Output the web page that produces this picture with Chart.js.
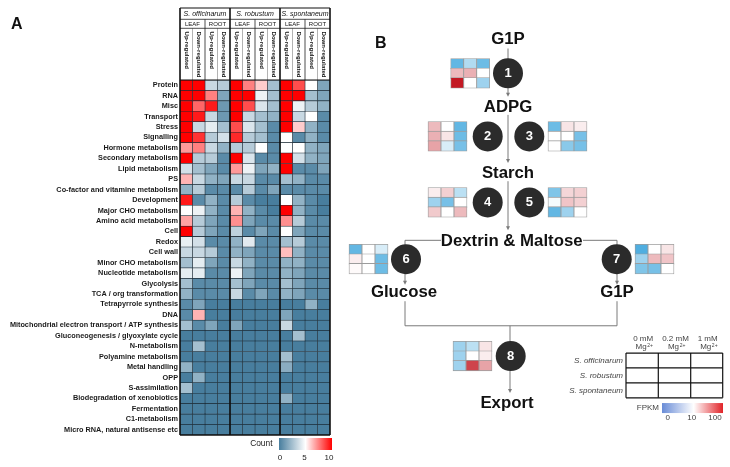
<!DOCTYPE html>
<html>
<head>
<meta charset="utf-8">
<script src="https://cdn.jsdelivr.net/npm/chart.js@4.4.1/dist/chart.umd.min.js"></script>
<style>
    html, body { margin: 0; padding: 0; background: #fff; }
    #wrap { position: relative; width: 730px; height: 467px; overflow: hidden; }
    #boxA { position: absolute; left: 0; top: 0; width: 340px; height: 467px; }
    #boxB { position: absolute; left: 340px; top: 0; width: 390px; height: 467px; }
</style>
</head>
<body>
<div id="wrap">
    <div id="boxA"><canvas id="heat"></canvas></div>
    <div id="boxB"><canvas id="path"></canvas></div>
</div>
<script>
    "use strict";

    var FONT = '"Liberation Sans", Arial, sans-serif';

    // Panel A data
    var categories = ["Protein", "RNA", "Misc", "Transport", "Stress", "Signalling", "Hormone metabolism",
        "Secondary metabolism", "Lipid metabolism", "PS", "Co-factor and vitamine metabolism", "Development",
        "Major CHO metabolism", "Amino acid metabolism", "Cell", "Redox", "Cell wall", "Minor CHO metabolism",
        "Nucleotide metabolism", "Glycolysis", "TCA / org transformation", "Tetrapyrrole synthesis", "DNA",
        "Mitochondrial electron transport / ATP synthesis", "Gluconeogenesis / glyoxylate cycle", "N-metabolism",
        "Polyamine metabolism", "Metal handling", "OPP", "S-assimilation", "Biodegradation of xenobiotics",
        "Fermentation", "C1-metabolism", "Micro RNA, natural antisense etc"];
    var species = ["S. officinarum", "S. robustum", "S. spontaneum"];
    var tissues = ["LEAF", "ROOT"];
    var regulation = ["Up-regulated", "Down-regulated"];
    var countTicks = [0, 5, 10];

    // counts per row: [LEAF up, LEAF down, ROOT up, ROOT down]
    var officinarum = [
        [10, 10, 3.5, 3], [10, 10, 7.5, 1.5], [10, 8, 9.5, 1], [10, 9.5, 3.5, 1], [10, 3.5, 4.3, 2.5],
        [10, 9, 3, 3.8], [7, 7.5, 3.5, 2], [10, 3, 3, 0.5], [3.8, 2.5, 1.5, 0.5], [6.5, 3.5, 2, 1.5],
        [2, 3, 0.5, 0.5], [9.5, 0.5, 2, 0.5], [5, 4.5, 2, 0.5], [6.8, 3, 1.5, 0.5], [10, 3, 1.5, 0.5],
        [4.4, 3.8, 0.5, 0.5], [3.5, 3.5, 3, 0.5], [2.5, 4.3, 1.5, 0.5], [4.3, 4.3, 0.5, 0.5], [2.5, 0.5, 0.5, 0.5],
        [2, 0.5, 0.5, 0.5], [0.5, 1.5, 0, 0], [0.5, 6.5, 0, 0], [2.5, 0.5, 1.5, 0], [0, 0, 0, 0],
        [0, 2.5, 0, 0], [0, 0, 0, 0], [2, 0, 0, 0], [0, 2, 0, 0], [2.5, 0, 0, 0],
        [0, 0, 0, 0], [0, 0, 0, 0], [0, 0, 0, 0], [0, 0, 0, 0]
    ];
    var robustum = [
        [10, 7.5, 6, 2.5], [10, 10, 4.5, 2.5], [10, 8.5, 4, 2.5], [10, 3.5, 2.5, 2], [8.5, 4, 2.5, 0.5],
        [9.2, 3, 2.5, 0.5], [3, 3, 5, 0.5], [10, 4, 0.5, 0.5], [7, 4.5, 1.5, 2], [3.5, 3.5, 0.5, 0.5],
        [0.5, 3, 0.5, 1.5], [3, 0.5, 0, 0], [6.5, 2, 0.5, 0], [7.2, 1.5, 0.5, 0.5], [3.2, 0.5, 1.5, 0.5],
        [2, 4.2, 0.5, 0.5], [2, 1.5, 0.5, 0.5], [3.5, 2, 0.5, 0.5], [4.5, 1.5, 0.5, 0.5], [2.5, 1.5, 0.5, 0.5],
        [3.5, 0.5, 1.5, 0.5], [0, 0, 0, 0], [0, 0, 0, 0], [1.5, 0, 0, 0], [0, 0, 0, 0],
        [0, 0, 0, 0], [0, 0, 0, 0], [0, 0, 0, 0], [0, 0, 0, 0], [0, 0, 0, 0],
        [0, 0, 0, 0], [0, 0, 0, 0], [0, 0, 0, 0], [0, 0, 0, 0]
    ];
    var spontaneum = [
        [10, 8.5, 5, 1.5], [10, 10, 2.5, 1.5], [10, 4.5, 3, 2], [10, 3.5, 5, 0.5], [10, 6, 2, 0.5],
        [5, 0.5, 2, 0.5], [5, 5, 2, 1.5], [10, 3.8, 2, 1.5], [10, 0.5, 0.5, 1.5], [2.5, 2, 0.5, 0.5],
        [0.5, 0.5, 0.5, 0.5], [5, 2, 0.5, 0], [10, 2, 0.5, 0], [7.2, 3, 0.5, 0.5], [5, 1.5, 0.5, 0.5],
        [2.5, 3, 0.5, 0.5], [6.3, 2, 0.5, 0.5], [2, 2, 0.5, 0.5], [2, 1.5, 0.5, 0.5], [2.5, 1.5, 0.5, 0.5],
        [2, 1.5, 0.5, 0.5], [0, 0, 2, 0], [1.5, 0, 0, 0], [3.5, 0, 0, 0], [0, 2.5, 0, 0],
        [0, 0, 0, 0], [2.5, 0, 0, 0], [1.8, 0, 0, 0], [0, 0, 0, 0], [0, 0, 0, 0],
        [2, 0, 0, 0], [0, 0, 0, 0], [0, 0, 0, 0], [0, 0, 0, 0]
    ];

    // Panel B data: FPKM, rows = species, cols = 0 / 0.2 / 1 mM Mg
    var enzymeSteps = ["1", "2", "3", "4", "5", "6", "7", "8"];
    var mgLevels = ["0 mM", "0.2 mM", "1 mM"];
    var fpkmTicks = ["0", "10", "100"];
    var fpkm1 = [[2, 6, 2.5], [20, 22, 10], [100, 10, 5]];
    var fpkm2 = [[20, 10, 2], [22, 13, 2.5], [25, 8, 3]];
    var fpkm3 = [[2.5, 13, 12], [10, 10, 3], [10, 4, 3]];
    var fpkm4 = [[12, 16, 6.5], [5, 3, 10], [17, 10, 20]];
    var fpkm5 = [[3.5, 15, 16], [9.5, 18, 16], [2, 5, 10]];
    var fpkm6 = [[2, 10, 8], [12, 10, 2.5], [10.5, 10, 2.5]];
    var fpkm7 = [[1, 10, 13], [5, 20, 18], [3.5, 3, 10]];
    var fpkm8 = [[5, 6.5, 13], [5, 10, 12], [5, 65, 25]];
    var fpkmSets = [fpkm1, fpkm2, fpkm3, fpkm4, fpkm5, fpkm6, fpkm7, fpkm8];


    // Colour helpers
    function mix(a, b, t) {
        return "rgb(" + Math.round(a[0] + (b[0] - a[0]) * t) + "," +
            Math.round(a[1] + (b[1] - a[1]) * t) + "," + Math.round(a[2] + (b[2] - a[2]) * t) + ")";
    }
    var WHITE = [255, 255, 255];
    function countColor(v) {
        var lo = [72, 126, 158], hi = [255, 0, 0];
        if (v <= 5) return mix(lo, WHITE, v / 5);
        return mix(WHITE, hi, Math.min(1, (v - 5) / 5));
    }
    function fpkmColor(v) {
        var lo = [60, 165, 220], hi = [195, 25, 35];
        if (v <= 10) return mix(lo, WHITE, v / 10);
        return mix(WHITE, hi, Math.min(1, Math.log10(v) - 1));
    }


    // Heatmap header + legend plugin
    var heatDecor = {
        id: "heatDecor",
        afterDatasetsDraw: function (chart) {
            var ctx = chart.ctx, xs = chart.scales.x, a = chart.chartArea;
            var top = 8, y1 = 19.3, y2 = 28.3;
            function line(xa, ya, xb, yb, w, c) {
                ctx.beginPath();
                ctx.moveTo(xa, ya);
                ctx.lineTo(xb, yb);
                ctx.lineWidth = w;
                ctx.strokeStyle = c;
                ctx.stroke();
            }
            ctx.save();
            // column lines in header
            for (var c = 1; c < 12; c++) {
                var xc = xs.getPixelForValue(c);
                if (c % 4 === 0) continue;
                if (c % 2 === 0) line(xc, y1, xc, a.top, 0.8, "#222");
                else line(xc, y2, xc, a.top, 0.5, "#666");
            }
            line(a.left, top, a.right, top, 1.2, "#111");
            line(a.left, y1, a.right, y1, 0.8, "#222");
            line(a.left, y2, a.right, y2, 0.8, "#222");
            line(a.left, a.top, a.right, a.top, 1.2, "#111");
            line(a.left, a.bottom, a.right, a.bottom, 1.4, "#111");
            for (var g = 0; g <= 12; g += 4) {
                var xg = xs.getPixelForValue(g);
                line(xg, top, xg, a.bottom, 1.6, "#111");
            }

            // header text
            ctx.fillStyle = "#111";
            ctx.textAlign = "center";
            ctx.textBaseline = "middle";
            species.forEach(function (s, i) {
                ctx.font = "italic 7px " + FONT;
                ctx.fillText(s, (xs.getPixelForValue(i * 4) + xs.getPixelForValue(i * 4 + 4)) / 2, 13.8);
                tissues.forEach(function (t, j) {
                    ctx.font = "6px " + FONT;
                    var x0 = xs.getPixelForValue(i * 4 + j * 2), x1 = xs.getPixelForValue(i * 4 + j * 2 + 2);
                    ctx.fillText(t, (x0 + x1) / 2, 24);
                    regulation.forEach(function (r, k) {
                        var xr = xs.getPixelForValue(i * 4 + j * 2 + k + 0.5);
                        ctx.save();
                        ctx.translate(xr, 31.5);
                        ctx.rotate(Math.PI / 2);
                        ctx.textAlign = "left";
                        ctx.font = "bold 6.1px " + FONT;
                        ctx.fillText(r, 0, 0);
                        ctx.restore();
                    });
                });
            });

            // panel letter
            ctx.font = "bold 16px " + FONT;
            ctx.textAlign = "left";
            ctx.fillText("A", 11, 25);

            // Count legend
            var bx0 = 279, bx1 = 332, by0 = 438, by1 = 450;
            var grad = ctx.createLinearGradient(bx0, 0, bx1, 0);
            grad.addColorStop(0, countColor(0));
            grad.addColorStop(0.5, countColor(5));
            grad.addColorStop(1, countColor(10));
            ctx.fillStyle = grad;
            ctx.fillRect(bx0, by0, bx1 - bx0, by1 - by0);
            ctx.fillStyle = "#222";
            ctx.font = "8.4px " + FONT;
            ctx.textAlign = "right";
            ctx.fillText("Count", 272.5, 443.5);
            ctx.textAlign = "center";
            ctx.font = "8px " + FONT;
            countTicks.forEach(function (t) {
                ctx.fillText(String(t), bx0 + 1 + (bx1 - bx0 - 4) * t / 10, 457.5);
            });
            ctx.restore();
        }
    };


    // Heatmap chart
    var heatSets = [];
    [officinarum, robustum, spontaneum].forEach(function (counts, si) {
        for (var col = 0; col < 4; col++) {
            heatSets.push({
                label: species[si] + " " + tissues[Math.floor(col / 2)] + " " + regulation[col % 2],
                data: categories.map(function () { return 1; }),
                backgroundColor: counts.map(function (row) { return countColor(row[col]); }),
                borderColor: "#1b2a34",
                borderWidth: 0.6,
                borderSkipped: false,
                barPercentage: 1,
                categoryPercentage: 1
            });
        }
    });

    var ctx1 = document.getElementById("heat").getContext("2d");
    var heatChart = new Chart(ctx1, {
        type: "bar",
        data: { labels: categories, datasets: heatSets },
        options: {
            indexAxis: "y",
            responsive: true,
            maintainAspectRatio: false,
            animation: false,
            layout: { padding: { left: 0, right: 10, top: 80, bottom: 32 } },
            plugins: { legend: { display: false }, tooltip: { enabled: false } },
            scales: {
                x: { type: "linear", stacked: true, min: 0, max: 12, display: false },
                y: {
                    stacked: true,
                    grid: { display: false, drawTicks: false },
                    border: { display: false },
                    ticks: {
                        autoSkip: false,
                        padding: 2,
                        color: "#1a1a1a",
                        font: { family: FONT, size: 7.3, weight: "bold" }
                    },
                    afterFit: function (axis) { axis.width = 180; }
                }
            }
        },
        plugins: [heatDecor]
    });


    // Pathway layout (pixel units of the figure)
    var CELL_W = 13, CELL_H = 10.5;
    var nodes = [
        { cx: 508, cy: 57.3, left: 450.7 },
        { cx: 487.7, cy: 126.7, left: 428 },
        { cx: 529.3, cy: 126.7, left: 548 },
        { cx: 487.7, cy: 199.3, left: 428 },
        { cx: 529.3, cy: 199.3, left: 548 },
        { cx: 406, cy: 261.7, left: 349 },
        { cx: 616.7, cy: 261.7, left: 635 },
        { cx: 510.7, cy: 368.3, left: 453 }
    ];
    var metabolites = [
        { text: "G1P", x: 508, y: 20 }, { text: "ADPG", x: 508, y: 95 }, { text: "Starch", x: 508, y: 167 },
        { text: "Dextrin & Maltose", x: 511.7, y: 242.5 }, { text: "Glucose", x: 404, y: 298.5 },
        { text: "G1P", x: 617, y: 298.5 }, { text: "Export", x: 507, y: 420.5 }
    ];
    var links = [
        [508, 30, 508, 83, 1], [508, 103, 508, 156, 1], [508, 176, 508, 230, 1],
        [441, 241, 405, 241, 0], [405, 241, 405, 290, 1], [583, 241, 617, 241, 0], [617, 241, 617, 290, 1],
        [405, 308, 405, 335, 0], [617, 308, 617, 335, 0], [405, 335, 617, 335, 0], [510, 335, 510, 409, 1]
    ];

    var cellData = [], cellColors = [];
    fpkmSets.forEach(function (m, n) {
        var nd = nodes[n], top = nd.cy - CELL_H * 1.5;
        m.forEach(function (row, r) {
            row.forEach(function (v, c) {
                cellData.push({ y: top + (r + 0.5) * CELL_H, x: [nd.left + c * CELL_W, nd.left + (c + 1) * CELL_W] });
                cellColors.push(fpkmColor(v));
            });
        });
    });

    var pathDecor = {
        id: "pathDecor",
        beforeDatasetsDraw: function (chart) {
            var ctx = chart.ctx, xs = chart.scales.x, ys = chart.scales.y;
            ctx.save();
            ctx.strokeStyle = "#7a7a7a";
            ctx.fillStyle = "#7a7a7a";
            ctx.lineWidth = 1;
            links.forEach(function (l) {
                var xa = xs.getPixelForValue(l[0]), ya = ys.getPixelForValue(l[1]);
                var xb = xs.getPixelForValue(l[2]), yb = ys.getPixelForValue(l[3]);
                ctx.beginPath();
                ctx.moveTo(xa, ya);
                ctx.lineTo(xb, l[4] ? yb - 3 : yb);
                ctx.stroke();
                if (l[4]) {
                    ctx.beginPath();
                    ctx.moveTo(xb - 2, yb - 4);
                    ctx.lineTo(xb + 2, yb - 4);
                    ctx.lineTo(xb, yb);
                    ctx.closePath();
                    ctx.fill();
                }
            });
            ctx.restore();
        },
        afterDatasetsDraw: function (chart) {
            var ctx = chart.ctx, xs = chart.scales.x, ys = chart.scales.y;
            ctx.save();
            ctx.textAlign = "center";
            ctx.textBaseline = "middle";
            nodes.forEach(function (nd, i) {
                var x = xs.getPixelForValue(nd.cx), y = ys.getPixelForValue(nd.cy);
                ctx.beginPath();
                ctx.arc(x, y, 15, 0, Math.PI * 2);
                ctx.fillStyle = "#2b2b2b";
                ctx.fill();
                ctx.fillStyle = "#fff";
                ctx.font = "bold 13px " + FONT;
                ctx.fillText(enzymeSteps[i], x, y + 0.5);
            });
            ctx.fillStyle = "#111";
            ctx.font = "bold 16.8px " + FONT;
            metabolites.forEach(function (m) {
                ctx.fillText(m.text, xs.getPixelForValue(m.x), ys.getPixelForValue(m.y));
            });
            ctx.font = "bold 16px " + FONT;
            ctx.textAlign = "left";
            ctx.fillText("B", xs.getPixelForValue(375), ys.getPixelForValue(25));

            // key table
            var gx = [626, 658.3, 690.7, 722.7], gy = [365, 381.3, 397.8, 414.3];
            ctx.strokeStyle = "#111";
            ctx.lineWidth = 1.2;
            gx.forEach(function (x) {
                ctx.beginPath();
                ctx.moveTo(xs.getPixelForValue(x), ys.getPixelForValue(gy[0]));
                ctx.lineTo(xs.getPixelForValue(x), ys.getPixelForValue(gy[3]));
                ctx.stroke();
            });
            gy.forEach(function (y) {
                ctx.beginPath();
                ctx.moveTo(xs.getPixelForValue(gx[0]), ys.getPixelForValue(y));
                ctx.lineTo(xs.getPixelForValue(gx[3]), ys.getPixelForValue(y));
                ctx.stroke();
            });
            ctx.fillStyle = "#444";
            ctx.textAlign = "center";
            mgLevels.forEach(function (lv, i) {
                var x = xs.getPixelForValue((gx[i] + gx[i + 1]) / 2 + 1);
                ctx.font = "8px " + FONT;
                ctx.fillText(lv, x, ys.getPixelForValue(349.3));
                ctx.fillText("Mg", x - 2, ys.getPixelForValue(358.5));
                ctx.font = "5px " + FONT;
                ctx.fillText("2+", x + 7, ys.getPixelForValue(356.5));
            });
            ctx.textAlign = "right";
            ctx.font = "italic 8px " + FONT;
            species.forEach(function (s, i) {
                ctx.fillText(s, xs.getPixelForValue(623), ys.getPixelForValue((gy[i] + gy[i + 1]) / 2));
            });

            // FPKM bar
            var bx0 = xs.getPixelForValue(662), bx1 = xs.getPixelForValue(723);
            var grad = ctx.createLinearGradient(bx0, 0, bx1, 0);
            grad.addColorStop(0, "rgb(105,140,215)");
            grad.addColorStop(0.52, "#ffffff");
            grad.addColorStop(1, "rgb(225,35,40)");
            ctx.fillStyle = grad;
            ctx.fillRect(bx0, ys.getPixelForValue(420), bx1 - bx0, 10);
            ctx.fillStyle = "#444";
            ctx.font = "8px " + FONT;
            ctx.fillText("FPKM", xs.getPixelForValue(659), ys.getPixelForValue(425));
            ctx.textAlign = "center";
            var tickX = [667.7, 691.7, 715];
            fpkmTicks.forEach(function (t, i) {
                ctx.fillText(t, xs.getPixelForValue(tickX[i]), ys.getPixelForValue(436.5));
            });
            ctx.restore();
        }
    };


    // Pathway chart
    var ctx2 = document.getElementById("path").getContext("2d");
    var pathChart = new Chart(ctx2, {
        type: "bar",
        data: {
            datasets: [{
                label: "FPKM",
                data: cellData,
                backgroundColor: cellColors,
                borderColor: "#9c9c9c",
                borderWidth: 0.8,
                borderSkipped: false,
                barThickness: CELL_H
            }]
        },
        options: {
            indexAxis: "y",
            responsive: true,
            maintainAspectRatio: false,
            animation: false,
            layout: { padding: 0 },
            plugins: { legend: { display: false }, tooltip: { enabled: false } },
            scales: {
                x: { type: "linear", min: 340, max: 730, display: false },
                y: { type: "linear", min: 0, max: 467, reverse: true, display: false }
            }
        },
        plugins: [pathDecor]
    });
</script>
</body>
</html>
